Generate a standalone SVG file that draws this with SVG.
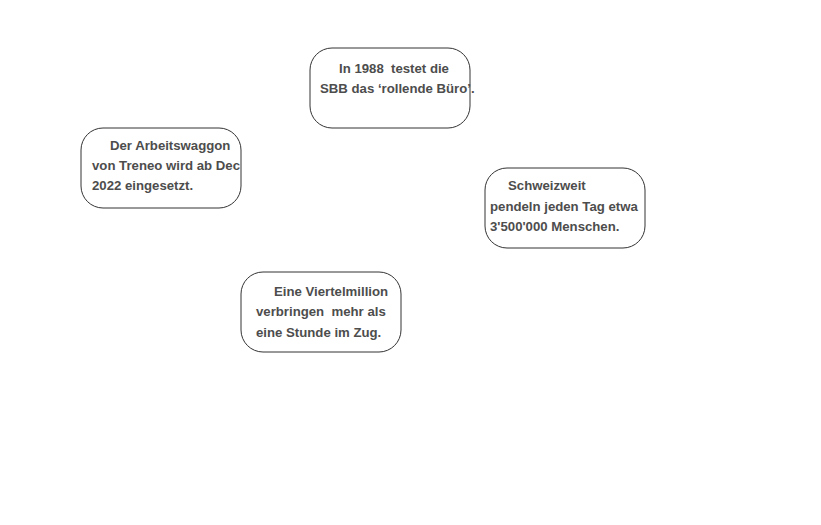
<svg xmlns="http://www.w3.org/2000/svg" width="821" height="525" viewBox="0 0 821 525">
<style>
.box{fill:#fff;stroke:#333;stroke-width:1}
.t{font-family:"Liberation Sans",Arial,sans-serif;font-size:13.2px;font-weight:bold;fill:#4d4d4d;white-space:pre}
</style>
<rect width="821" height="525" fill="#fff"/>
<g id="connectors"></g>
<g id="node1">
<rect class="box" x="310" y="48" width="160" height="80" rx="22" ry="22"/>
<text class="t" xml:space="preserve"><tspan x="339" y="73">In 1988  testet die</tspan><tspan x="320" y="93">SBB das ‘rollende Büro’.</tspan></text>
</g>
<g id="node2">
<rect class="box" x="81" y="128" width="160" height="80" rx="22" ry="22"/>
<text class="t" xml:space="preserve"><tspan x="110" y="150">Der Arbeitswaggon</tspan><tspan x="92" y="170">von Treneo wird ab Dec</tspan><tspan x="92" y="190">2022 eingesetzt.</tspan></text>
</g>
<g id="node3">
<rect class="box" x="485" y="168" width="160" height="80" rx="22" ry="22"/>
<text class="t" xml:space="preserve"><tspan x="508" y="190">Schweizweit</tspan><tspan x="490" y="211">pendeln jeden Tag etwa</tspan><tspan x="490" y="231">3'500'000 Menschen.</tspan></text>
</g>
<g id="node4">
<rect class="box" x="241" y="272" width="160" height="80" rx="22" ry="22"/>
<text class="t" xml:space="preserve"><tspan x="274" y="296">Eine Viertelmillion</tspan><tspan x="256" y="316">verbringen  mehr als</tspan><tspan x="256" y="337">eine Stunde im Zug.</tspan></text>
</g>
</svg>
